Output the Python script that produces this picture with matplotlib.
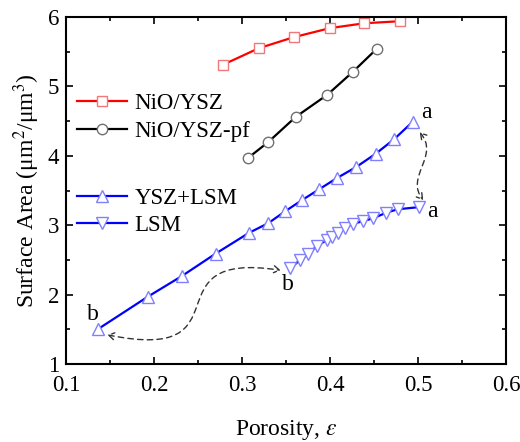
import matplotlib
matplotlib.use("Agg")
import matplotlib.pyplot as plt
from matplotlib.path import Path
from matplotlib.patches import FancyArrowPatch

plt.rcParams['font.family'] = ['Liberation Serif', 'DejaVu Serif']
plt.rcParams['mathtext.fontset'] = 'stix'

# Data
nio_x = [0.278, 0.319, 0.359, 0.400, 0.439, 0.480]
nio_y = [5.31, 5.55, 5.71, 5.84, 5.91, 5.94]

niopf_x = [0.307, 0.330, 0.361, 0.397, 0.426, 0.453]
niopf_y = [3.97, 4.20, 4.56, 4.88, 5.21, 5.54]

ysz_x = [0.136, 0.193, 0.232, 0.270, 0.308, 0.330, 0.349, 0.368, 0.388,
         0.408, 0.430, 0.452, 0.473, 0.494]
ysz_y = [1.50, 1.97, 2.27, 2.59, 2.89, 3.03, 3.20, 3.36, 3.52,
         3.68, 3.84, 4.03, 4.24, 4.49]

lsm_x = [0.355, 0.366, 0.375, 0.385, 0.397, 0.402, 0.409, 0.417, 0.426,
         0.438, 0.449, 0.464, 0.477, 0.501]
lsm_y = [2.38, 2.50, 2.58, 2.70, 2.79, 2.83, 2.89, 2.96, 3.02,
         3.06, 3.10, 3.18, 3.23, 3.26]

labels = ['NiO/YSZ', 'NiO/YSZ-pf', 'YSZ+LSM', 'LSM']

fig = plt.figure(figsize=(5.2, 4.42), dpi=100)
ax = fig.add_axes([0.127, 0.1765, 0.846, 0.785])

lw = 1.6
l1, = ax.plot(nio_x, nio_y, '-', color='#ff0000', lw=lw, marker='s', ms=7,
              mfc='white', mec='#f07878', mew=1.0)
l2, = ax.plot(niopf_x, niopf_y, '-', color='black', lw=lw, marker='o', ms=7.5,
              mfc='white', mec='#707070', mew=1.0)
l3, = ax.plot(ysz_x, ysz_y, '-', color='#0000ff', lw=lw, marker='^', ms=8.5,
              mfc='white', mec='#8080ff', mew=1.0)
l4, = ax.plot(lsm_x, lsm_y, '-', color='#0000ff', lw=lw, marker='v', ms=8.5,
              mfc='white', mec='#8080ff', mew=1.0)

ax.set_xlim(0.1, 0.6)
ax.set_ylim(1, 6)
ax.set_xticks([0.1, 0.2, 0.3, 0.4, 0.5, 0.6])
ax.set_xticklabels(['0.1', '0.2', '0.3', '0.4', '0.5', '0.6'])
ax.set_yticks([1, 2, 3, 4, 5, 6])
ax.set_xticks([0.15, 0.25, 0.35, 0.45, 0.55], minor=True)
ax.set_yticks([1.5, 2.5, 3.5, 4.5, 5.5], minor=True)
ax.tick_params(which='both', direction='in', top=True, right=True, width=1.2)
ax.tick_params(which='major', length=5, labelsize=16.5)
ax.tick_params(axis='x', which='major', pad=8)
ax.tick_params(axis='y', which='major', pad=5)
ax.tick_params(which='minor', length=3)
for s in ax.spines.values():
    s.set_linewidth(1.5)

ax.set_xlabel(r'Porosity, $\varepsilon$', fontsize=17, labelpad=16)
ax.set_ylabel('Surface Area (μm$^2$/μm$^3$)', fontsize=17, labelpad=4)

leg_kw = dict(loc='center left', frameon=False, fontsize=16.5,
              handlelength=2.2, handletextpad=0.3, labelspacing=0.3,
              borderpad=0, borderaxespad=0)
leg1 = ax.legend([l1, l2], labels[:2], bbox_to_anchor=(0.025, 0.71), **leg_kw)
ax.add_artist(leg1)
ax.legend([l3, l4], labels[2:], bbox_to_anchor=(0.025, 0.438), **leg_kw)

# point labels
ax.text(0.509, 4.63, 'a', fontsize=17, ha='center', va='center')
ax.text(0.516, 3.20, 'a', fontsize=17, ha='center', va='center')
ax.text(0.131, 1.71, 'b', fontsize=17, ha='center', va='center')
ax.text(0.352, 2.14, 'b', fontsize=17, ha='center', va='center')

# curved dashed arrows
def carrow(pts):
    codes = [Path.MOVETO] + [Path.CURVE4] * (len(pts) - 1)
    p = FancyArrowPatch(path=Path(pts, codes), arrowstyle='<->,head_length=4,head_width=2.5',
                        linestyle=(0, (4, 3)), color='#333333', lw=1.0,
                        shrinkA=0, shrinkB=0)
    ax.add_patch(p)

carrow([(0.502, 4.34), (0.525, 4.0), (0.485, 3.7), (0.506, 3.36)])
carrow([(0.147, 1.42), (0.31, 1.0), (0.19, 2.65), (0.344, 2.35)])

fig.savefig('out.png', dpi=100, facecolor='white')
